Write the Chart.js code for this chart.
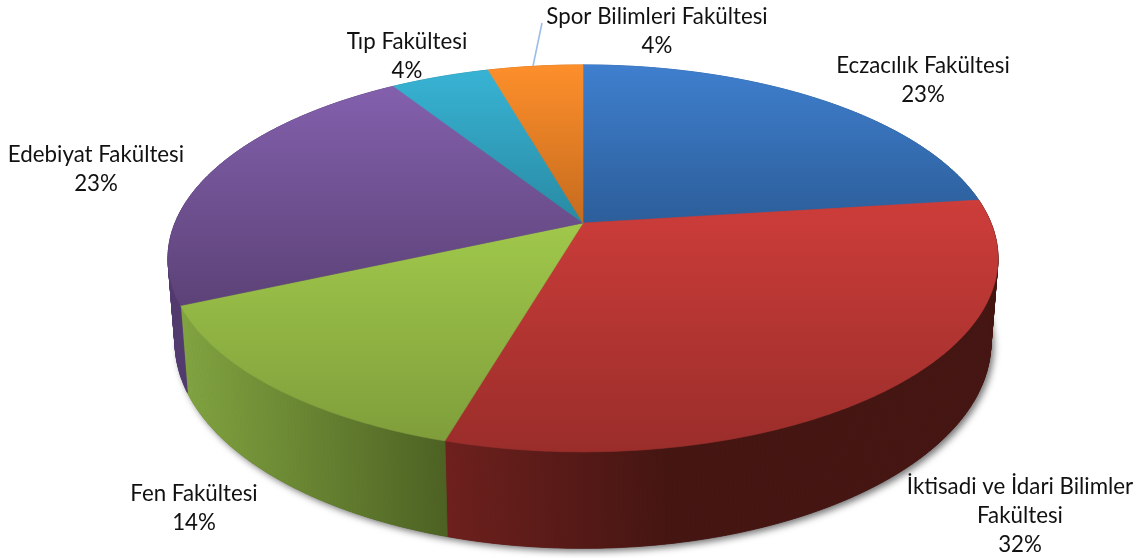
<!DOCTYPE html>
<html lang="tr"><head><meta charset="utf-8">
<style>html,body{margin:0;padding:0;background:#fff}canvas{display:block}</style>
<script src="https://cdn.jsdelivr.net/npm/chart.js@4"></script>
</head><body><canvas id="c" width="1142" height="558"></canvas>
<script>
const categories = ["Eczacılık Fakültesi","İktisadi ve İdari Bilimler Fakültesi","Fen Fakültesi","Edebiyat Fakültesi","Tıp Fakültesi","Spor Bilimleri Fakültesi"];
const shares = [23, 31.5, 13.8, 22.7, 4.6, 4.4];
const percentLabels = ["23%","32%","14%","23%","4%","4%"];
const labelLines = [["Eczacılık Fakültesi"],["İktisadi ve İdari Bilimler","Fakültesi"],["Fen Fakültesi"],["Edebiyat Fakültesi"],["Tıp Fakültesi"],["Spor Bilimleri Fakültesi"]];
const topColors = [["#3f7fce","#2c5e9a"],["#cd3d3a","#9a2d2a"],["#a0c84b","#7f9e3b"],["#8360ad","#5c4277"],["#38b3d4","#298aa3"],["#fd8f2b","#c66b1e"]];
const sideColors = [["#2c5e9a","#2c5e9a"],["#6e201d","#451512"],["#82a540","#4d6223"],["#523a6e","#523a6e"],["#298aa3","#298aa3"],["#c66b1e","#c66b1e"]];
const labelAnchors = [[923,66],[1020,487],[194,494],[96,155],[407,42],[657,17]];
const geom = {cx:583, cy:223, R:408, S:187, k:0.183, sx:0.983, sy:1.065, d:81.6};
function topPt(a){const u=Math.cos(a),v=Math.sin(a),w=1-geom.k*v;return [geom.cx+geom.R*u/w, geom.cy+geom.S*v/w];}
function botPt(a){const u=Math.cos(a),v=Math.sin(a),w=1-geom.k*v;return [geom.cx+geom.sx*geom.R*u/w, geom.cy+geom.d+geom.sy*geom.S*v/w];}
function arcPts(f,a0,a1){const n=Math.max(2,Math.ceil(Math.abs(a1-a0)/0.01)),p=[];for(let i=0;i<=n;i++)p.push(f(a0+(a1-a0)*i/n));return p;}
function trace(ctx,pts,first){pts.forEach((p,i)=>{(i===0&&first)?ctx.moveTo(p[0],p[1]):ctx.lineTo(p[0],p[1]);});}
const pie3d = {
  id:'pie3d',
  beforeDatasetsDraw(chart){
    const ctx=chart.ctx, arcs=chart.getDatasetMeta(0).data;
    ctx.save();
    // cast shadow under the drum
    ctx.save();
    ctx.shadowColor='rgba(0,0,0,0.55)';ctx.shadowBlur=7;ctx.shadowOffsetX=3;ctx.shadowOffsetY=3;
    ctx.fillStyle='#444';ctx.beginPath();
    trace(ctx,arcPts(botPt,0,Math.PI*2),true);ctx.closePath();ctx.fill();
    ctx.restore();
    // side walls, as a strip of thin quads so the silhouette between the rims is covered
    arcs.forEach((el,i)=>{
      const a0=el.startAngle,a1=el.endAngle;
      const t=arcPts(topPt,a0,a1),b=arcPts(botPt,a0,a1);
      const g=ctx.createLinearGradient(445,0,998,0);
      if(i===1){
        g.addColorStop(0,sideColors[i][0]);g.addColorStop(0.4,sideColors[i][1]);g.addColorStop(1,sideColors[i][1]);
      }
      const xs=t.map(p=>p[0]);
      const h=ctx.createLinearGradient(Math.min(...xs),0,Math.max(...xs),0);
      h.addColorStop(0,sideColors[i][0]);h.addColorStop(1,sideColors[i][1]);
      const paint=i===1?g:h;
      ctx.fillStyle=paint;ctx.strokeStyle=paint;ctx.lineWidth=0.8;
      for(let j=0;j<t.length-1;j++){
        ctx.beginPath();ctx.moveTo(t[j][0],t[j][1]);ctx.lineTo(t[j+1][0],t[j+1][1]);
        ctx.lineTo(b[j+1][0],b[j+1][1]);ctx.lineTo(b[j][0],b[j][1]);ctx.closePath();ctx.fill();ctx.stroke();
      }
    });
    // top faces
    arcs.forEach((el,i)=>{
      const t=arcPts(topPt,el.startAngle,el.endAngle);
      const ys=t.map(p=>p[1]).concat(geom.cy);
      const g=ctx.createLinearGradient(0,Math.min(...ys),0,Math.max(...ys));
      g.addColorStop(0,topColors[i][0]);g.addColorStop(1,topColors[i][1]);
      ctx.fillStyle=g;ctx.strokeStyle=g;ctx.lineWidth=0.6;
      ctx.beginPath();ctx.moveTo(geom.cx,geom.cy);trace(ctx,t,false);ctx.closePath();ctx.fill();ctx.stroke();
    });
    // leader line of the last label
    ctx.strokeStyle='#9dbde6';ctx.lineWidth=1.6;ctx.beginPath();ctx.moveTo(542,23);ctx.lineTo(533,66);ctx.stroke();
    // data labels
    ctx.fillStyle='#111';ctx.textAlign='center';ctx.textBaseline='middle';
    ctx.font='22.3px Lato, "Open Sans", sans-serif';
    labelLines.forEach((lines,i)=>{
      const [x,y]=labelAnchors[i];
      lines.concat(percentLabels[i]).forEach((s,j)=>ctx.fillText(s,x,y+j*29));
    });
    ctx.restore();
    return false;
  }
};
new Chart(document.getElementById('c'),{
  type:'pie',
  data:{labels:categories,datasets:[{data:shares,backgroundColor:topColors.map(c=>c[0])}]},
  options:{responsive:false,animation:false,plugins:{legend:{display:false},tooltip:{enabled:false}}},
  plugins:[pie3d]
});
</script></body></html>
